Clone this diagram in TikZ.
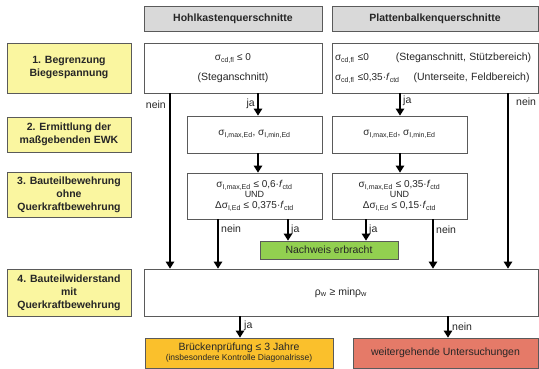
\documentclass[tikz,border=0pt]{standalone}
\usepackage{fontspec}
\setmainfont{Liberation Sans}
\usetikzlibrary{arrows.meta}
\newcommand\sbs[1]{\textsubscript{#1}}
\definecolor{bordergray}{HTML}{5A5A5A}
\definecolor{headgray}{HTML}{D9D9D9}
\definecolor{labyellow}{HTML}{FAF6A0}
\definecolor{okgreen}{HTML}{92D050}
\definecolor{warnorange}{HTML}{FAC02C}
\definecolor{badred}{HTML}{E57A68}
\definecolor{txt}{HTML}{262626}
\tikzset{
  box/.style={draw=bordergray, line width=0.8pt, fill=white, inner sep=2pt, text=txt,
    font=\fontsize{10}{12}\selectfont, align=center},
  head/.style={box, fill=headgray, font=\bfseries\fontsize{10.5}{13}\selectfont},
  lab/.style={box, fill=labyellow, font=\bfseries\fontsize{10.5}{13}\selectfont},
  arr/.style={line width=1.3pt, -{Triangle[width=8.5pt,length=7pt]}},
  tag/.style={inner sep=0pt, font=\fontsize{10.5}{12}\selectfont, text=txt}
}
\begin{document}
\begin{tikzpicture}[x=1pt,y=-1pt]
\useasboundingbox (0,0) rectangle (539,369);
% headers
\node[head, minimum width=178, minimum height=25] (hH) at (233,18.5) {Hohlkastenquerschnitte};
\node[head, minimum width=206, minimum height=25] (hP) at (435,18.5) {Plattenbalkenquerschnitte};
% left labels
\node[lab, minimum width=124, minimum height=50] (L1) at (69,68) {1. Begrenzung\\Biegespannung};
\node[lab, minimum width=124, minimum height=35] (L2) at (69,134.5) {2. Ermittlung der\\maßgebenden EWK};
\node[lab, minimum width=124, minimum height=45] (L3) at (69,194.5) {3. Bauteilbewehrung\\ohne\\Querkraftbewehrung};
\node[lab, minimum width=124, minimum height=47] (L4) at (69,292.5) {4. Bauteilwiderstand\\mit\\Querkraftbewehrung};
% step 1
\node[box, minimum width=178, minimum height=50] (B1L) at (233,68)
  {σ\sbs{cd,fl} ≤ 0\\[8pt]{\fontsize{10.5}{12}\selectfont (Steganschnitt)}};
\node[box, minimum width=206, minimum height=50, text width=200, align=left] (B1R) at (435,68)
  {σ\sbs{cd,fl} ≤0\hspace{27pt}{\fontsize{10.5}{12}\selectfont (Steganschnitt, Stützbereich)}\\[8pt]σ\sbs{cd,fl} ≤0,35·\textit{f}\sbs{ctd}\hspace{14pt}{\fontsize{10.5}{12}\selectfont (Unterseite, Feldbereich)}};
% step 2
\node[box, minimum width=135, minimum height=37] (B2L) at (254.5,134.5) {σ\sbs{I,max,Ed}, σ\sbs{I,min,Ed}};
\node[box, minimum width=135, minimum height=37] (B2R) at (399.5,134.5) {σ\sbs{I,max,Ed}, σ\sbs{I,min,Ed}};
% step 3
\node[box, minimum width=135, minimum height=46] (B3L) at (254.5,196)
  {σ\sbs{I,max,Ed} ≤ 0,6·\textit{f}\sbs{ctd}\\[-2pt]{\fontsize{9}{10}\selectfont UND}\\[-1pt]Δσ\sbs{I,Ed} ≤ 0,375·\textit{f}\sbs{ctd}};
\node[box, minimum width=135, minimum height=46] (B3R) at (399.5,196)
  {σ\sbs{I,max,Ed} ≤ 0,35·\textit{f}\sbs{ctd}\\[-2pt]{\fontsize{9}{10}\selectfont UND}\\[-1pt]Δσ\sbs{I,Ed} ≤ 0,15·\textit{f}\sbs{ctd}};
\node[box, fill=okgreen, minimum width=138, minimum height=18, font=\fontsize{10.5}{12}\selectfont] (N) at (329,250) {Nachweis erbracht};
% step 4
\node[box, minimum width=394, minimum height=47, font=\fontsize{10.5}{12}\selectfont] (B4) at (341,292.5) {ρ\sbs{w} ≥ minρ\sbs{w}};
\node[box, fill=warnorange, minimum width=188, minimum height=30, font=\fontsize{10.5}{12}\selectfont] (O) at (239,353)
  {Brückenprüfung ≤ 3 Jahre\\[-2pt]{\fontsize{8.5}{9}\selectfont (insbesondere Kontrolle Diagonalrisse)}};
\node[box, fill=badred, minimum width=185, minimum height=30, font=\fontsize{10.5}{12}\selectfont] (R) at (445.5,353) {weitergehende Untersuchungen};
% column coordinates
\coordinate (xnL) at (170,0);
\coordinate (xjL) at (258,0);
\coordinate (xjR) at (400,0);
\coordinate (xnR) at (508,0);
\coordinate (x3nL) at (218,0);
\coordinate (x3jL) at (288,0);
\coordinate (x3jR) at (366,0);
\coordinate (x3nR) at (433,0);
\coordinate (x4j) at (240,0);
\coordinate (x4n) at (448,0);
% connectors
\draw[arr] (B1L.south -| xnL) -- (B4.north -| xnL);
\draw[arr] (B1L.south -| xjL) -- (B2L.north -| xjL);
\draw[arr] (B1R.south -| xjR) -- (B2R.north -| xjR);
\draw[arr] (B1R.south -| xnR) -- (B4.north -| xnR);
\draw[arr] (B2L.south -| xjL) -- (B3L.north -| xjL);
\draw[arr] (B2R.south -| xjR) -- (B3R.north -| xjR);
\draw[arr] (B3L.south -| x3jL) -- (N.north -| x3jL);
\draw[arr] (B3R.south -| x3jR) -- (N.north -| x3jR);
\draw[arr] (B3L.south -| x3nL) -- (B4.north -| x3nL);
\draw[arr] (B3R.south -| x3nR) -- (B4.north -| x3nR);
\draw[arr] (B4.south -| x4j) -- (O.north -| x4j);
\draw[arr] (B4.south -| x4n) -- (R.north -| x4n);
% labels
\node[tag, anchor=east] (t1) at (166,105) {nein};
\node[tag, anchor=east] (t2) at (255,104) {ja};
\node[tag, anchor=west] (t3) at (403,101) {ja};
\node[tag, anchor=west] (t4) at (516,102) {nein};
\node[tag, anchor=west] (t5) at (221,229) {nein};
\node[tag, anchor=west] (t6) at (291,230) {ja};
\node[tag, anchor=west] (t7) at (369,230) {ja};
\node[tag, anchor=west] (t8) at (436,230) {nein};
\node[tag, anchor=west] (t9) at (244,326) {ja};
\node[tag, anchor=west] (t10) at (452,327) {nein};
\end{tikzpicture}
\end{document}
